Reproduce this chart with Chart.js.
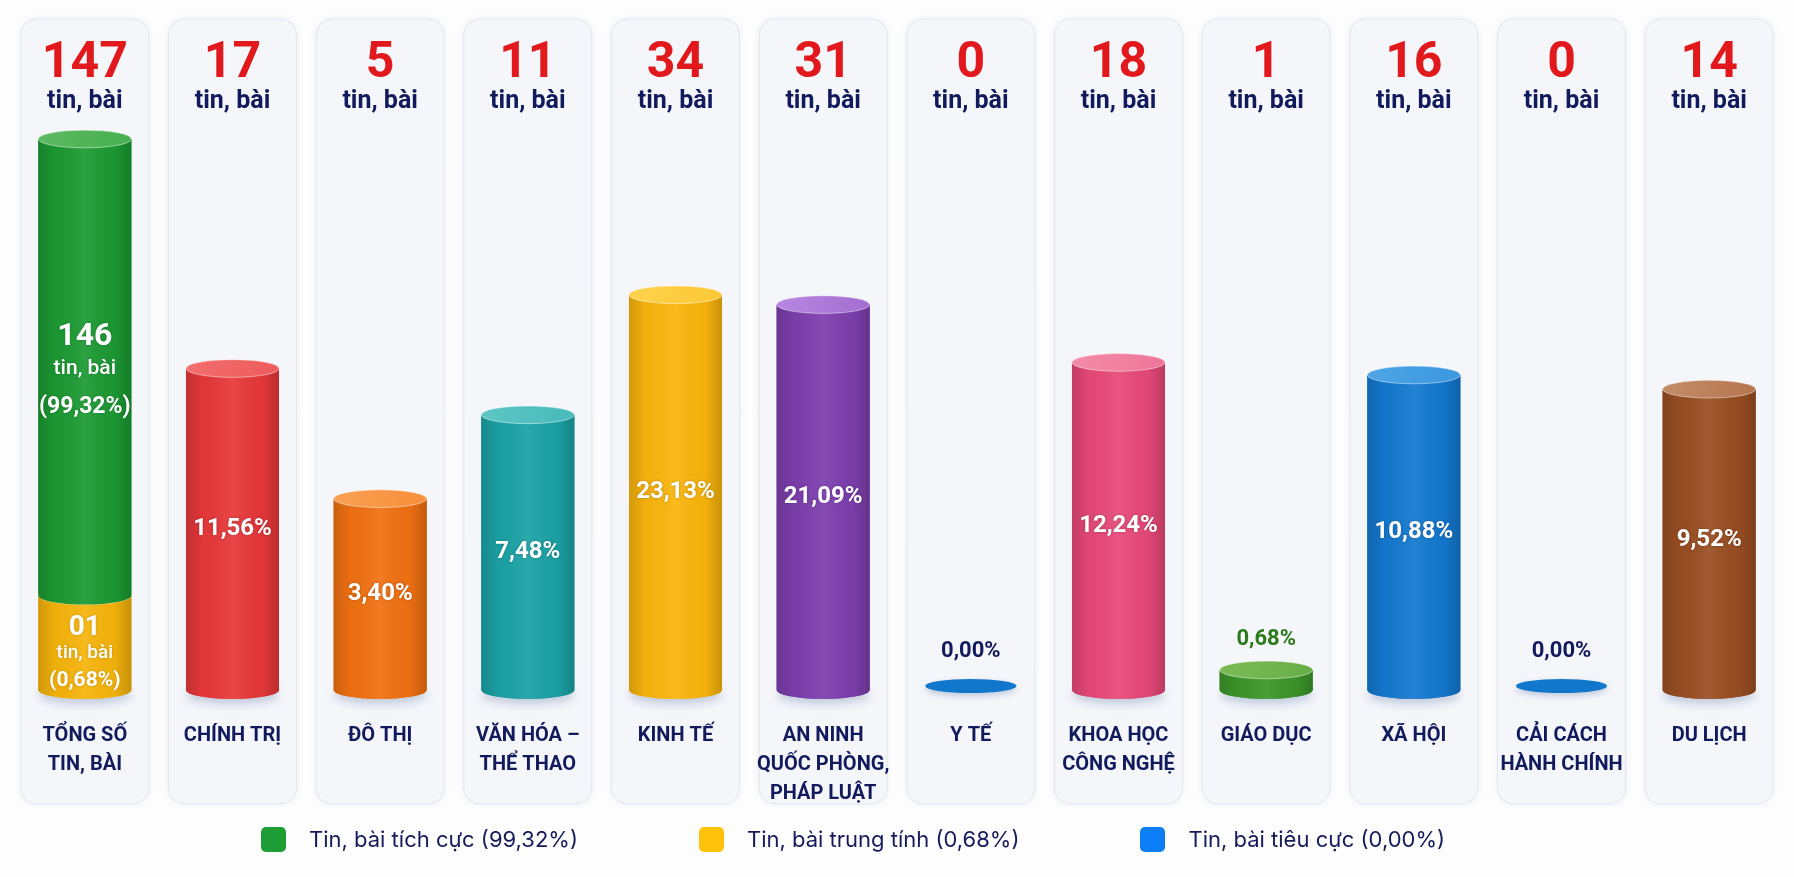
<!DOCTYPE html>
<html lang="vi">
<head>
<meta charset="utf-8">
<title>Tin, bài theo lĩnh vực</title>
<script src="https://cdn.jsdelivr.net/npm/chart.js@4.4.1/dist/chart.umd.min.js"></script>
<style>
  html, body { margin: 0; padding: 0; background: #fdfdfe; }
  .wrap { position: relative; width: 1794px; height: 877px; font-family: Roboto, "Noto Sans", sans-serif; }
  canvas { position: absolute; left: 0; top: 0; }
  #legend { position: absolute; left: 261px; top: 826px; display: flex; gap: 121px; align-items: center; }
  .legend-item { display: flex; align-items: center; gap: 23px; font-family: Inter, Roboto, sans-serif; font-size: 22px; color: #16195a; }
  .legend-box { width: 25px; height: 25px; border-radius: 5px; }
</style>
</head>
<body>
<div class="wrap">
  <canvas id="chart" width="1794" height="877"></canvas>
  <div id="legend"></div>
</div>
<script>
// du lieu
const categories = [
  ["TỔNG SỐ", "TIN, BÀI"], ["CHÍNH TRỊ"], ["ĐÔ THỊ"], ["VĂN HÓA –", "THỂ THAO"],
  ["KINH TẾ"], ["AN NINH", "QUỐC PHÒNG,", "PHÁP LUẬT"], ["Y TẾ"], ["KHOA HỌC", "CÔNG NGHỆ"],
  ["GIÁO DỤC"], ["XÃ HỘI"], ["CẢI CÁCH", "HÀNH CHÍNH"], ["DU LỊCH"]
];
const topicCounts = [null, 17, 5, 11, 34, 31, 0, 18, 1, 16, 0, 14];
const positiveCounts = [146, null, null, null, null, null, null, null, null, null, null, null];
const neutralCounts = [1, null, null, null, null, null, null, null, null, null, null, null];
const negativeCounts = [0, null, null, null, null, null, null, null, null, null, null, null];
const toneLabels = ["Tin, bài tích cực", "Tin, bài trung tính", "Tin, bài tiêu cực"];
const unitLabel = "tin, bài";

const totalCount = positiveCounts[0] + neutralCounts[0] + negativeCounts[0];
const pct = (v) => (v / totalCount * 100).toFixed(2).replace(".", ",") + "%";

const NAVY = "#111a5c";
const RED = "#e2191c";
const FONT = 'Roboto, "Noto Sans", sans-serif';

const topicBody = [null, "#e8383a", "#f27112", "#1ba3a6", "#fbb60c", "#7d3fae", "#1077cc",
  "#e8497a", "#3d962a", "#1479d0", "#1077cc", "#9a4e22"];
const topicCap = [null, "#f26e6e", "#f9a052", "#5ec6c5", "#fdd24c", "#b887e2", "#1077cc",
  "#f38ca8", "#7cbb55", "#4fa6e6", "#1077cc", "#c38c68"];

const pick = (c, i) => (Array.isArray(c) ? c[i] : c);

const ellipsePath = (ctx, x, y, rx, ry) => {
  ctx.beginPath();
  ctx.ellipse(x, y, rx, ry, 0, 0, Math.PI * 2);
};

const drawText = (ctx, text, x, y, size, color, weight = "bold") => {
  ctx.font = `${weight} ${size}px ${FONT}`;
  ctx.fillStyle = color;
  ctx.fillText(text, x, y);
};

// the, hinh tru va nhan
const cylinderPlugin = {
  id: "cylinders",
  beforeDraw(chart) {
    const { ctx, scales: { x } } = chart;
    ctx.save();
    categories.forEach((c, i) => {
      const cx = x.getPixelForValue(i);
      ctx.beginPath();
      ctx.roundRect(cx - 64, 19, 128, 785, 16);
      ctx.shadowColor = "rgba(110,130,170,0.14)";
      ctx.shadowBlur = 6;
      ctx.fillStyle = "#f5f6fa";
      ctx.fill();
      ctx.shadowColor = "transparent";
      ctx.strokeStyle = "#e1e6ef";
      ctx.lineWidth = 1;
      ctx.stroke();
    });
    ctx.restore();
  },
  afterDatasetsDraw(chart) {
    const { ctx, chartArea } = chart;
    const labels = [];
    chart.getSortedVisibleDatasetMetas().forEach((meta) => {
      const ds = chart.data.datasets[meta.index];
      meta.data.forEach((bar, i) => {
        const v = ds.data[i];
        if (v === null || v === undefined) return;
        const { x, y, base, width } = bar.getProps(["x", "y", "base", "width"], true);
        const rx = width / 2;
        const ry = rx * 0.19;
        const body = pick(ds.backgroundColor, i);
        const cap = pick(ds.capColor, i);
        if (v === 0) {
          if (!ds.flatZero) return;
          ctx.save();
          ctx.shadowColor = "rgba(70,100,150,0.3)";
          ctx.shadowBlur = 6;
          ctx.shadowOffsetY = 3;
          ellipsePath(ctx, x, base - 4, rx * 0.98, ry * 0.8);
          ctx.fillStyle = body;
          ctx.fill();
          ctx.restore();
          labels.push({ kind: "above", x, y: base - 4 - ry - 26, text: pct(v), color: NAVY });
          return;
        }
        const onFloor = Math.abs(base - chartArea.bottom) < 1;
        ctx.save();
        if (onFloor) {
          ctx.shadowColor = "rgba(70,100,150,0.3)";
          ctx.shadowBlur = 10;
          ctx.shadowOffsetY = 5;
          ellipsePath(ctx, x, base, rx, ry);
          ctx.fillStyle = body;
          ctx.fill();
          ctx.shadowColor = "transparent";
        }
        // than tru
        ctx.beginPath();
        ctx.moveTo(x - rx, y);
        ctx.lineTo(x - rx, base);
        ctx.ellipse(x, base, rx, ry, 0, Math.PI, 0, true);
        ctx.lineTo(x + rx, y);
        ctx.closePath();
        ctx.fillStyle = body;
        ctx.fill();
        const g = ctx.createLinearGradient(x - rx, 0, x + rx, 0);
        g.addColorStop(0, "rgba(0,0,0,0.16)");
        g.addColorStop(0.18, "rgba(0,0,0,0.03)");
        g.addColorStop(0.5, "rgba(255,255,255,0.07)");
        g.addColorStop(0.82, "rgba(0,0,0,0.03)");
        g.addColorStop(1, "rgba(0,0,0,0.2)");
        ctx.fillStyle = g;
        ctx.fill();
        // nap tren
        ellipsePath(ctx, x, y, rx, ry);
        const cg = ctx.createLinearGradient(x - rx, y - ry, x + rx, y + ry);
        cg.addColorStop(0, cap);
        cg.addColorStop(1, body);
        ctx.fillStyle = cap;
        ctx.fill();
        ctx.globalAlpha = 0.35;
        ctx.fillStyle = cg;
        ctx.fill();
        ctx.globalAlpha = 1;
        ctx.strokeStyle = "rgba(255,255,255,0.45)";
        ctx.lineWidth = 1;
        ctx.stroke();
        ctx.restore();

        if (ds.tone) {
          labels.push({ kind: "tone", x, y, base, v });
        } else if (v <= 1) {
          labels.push({ kind: "above", x, y: y - ry - 22, text: pct(v), color: "#2b7a1c" });
        } else {
          labels.push({ kind: "inside", x, y: (y + base) / 2, text: pct(v) });
        }
      });
    });

    ctx.save();
    ctx.textAlign = "center";
    labels.forEach((l) => {
      if (l.kind === "above") {
        ctx.textBaseline = "middle";
        drawText(ctx, l.text, l.x, l.y, 22, l.color);
      } else if (l.kind === "inside") {
        ctx.textBaseline = "middle";
        ctx.shadowColor = "rgba(0,0,0,0.25)";
        ctx.shadowBlur = 3;
        drawText(ctx, l.text, l.x, l.y, 24, "#ffffff");
        ctx.shadowColor = "transparent";
      } else {
        const mid = (l.y + l.base) / 2;
        const big = l.base - l.y > 150;
        const count = String(l.v).padStart(2, "0");
        ctx.textBaseline = "alphabetic";
        ctx.shadowColor = "rgba(0,0,0,0.2)";
        ctx.shadowBlur = 3;
        if (big) {
          drawText(ctx, count, l.x, mid - 22, 32, "#ffffff");
          drawText(ctx, unitLabel, l.x, mid + 7, 21, "#ffffff", "500");
          drawText(ctx, "(" + pct(l.v) + ")", l.x, mid + 46, 23, "#ffffff");
        } else {
          drawText(ctx, count, l.x, mid - 8, 28, "#ffffff");
          drawText(ctx, unitLabel, l.x, mid + 15, 19, "#ffffff", "500");
          drawText(ctx, "(" + pct(l.v) + ")", l.x, mid + 43, 21, "#ffffff");
        }
        ctx.shadowColor = "transparent";
      }
    });

    // so luong o dau moi cot
    const xs = chart.scales.x;
    ctx.textBaseline = "alphabetic";
    categories.forEach((c, i) => {
      const n = i === 0 ? totalCount : topicCounts[i];
      const cx = xs.getPixelForValue(i);
      drawText(ctx, String(n), cx, 77, 50, RED);
      drawText(ctx, unitLabel, cx, 108, 25, NAVY);
    });
    ctx.restore();
  }
};

const datasets = [
  { label: toneLabels[1], data: neutralCounts, yAxisID: "yTotal", tone: true,
    backgroundColor: "#f7b50b", capColor: "#fbd050", legendColor: "#ffc20a" },
  { label: toneLabels[0], data: positiveCounts, yAxisID: "yTotal", tone: true,
    backgroundColor: "#1c9a33", capColor: "#5dba62", legendColor: "#1f9d35" },
  { label: toneLabels[2], data: negativeCounts, yAxisID: "yTotal", tone: true,
    backgroundColor: "#0b7ef5", capColor: "#4aa2f7", legendColor: "#0b7ef5" },
  { label: "Lĩnh vực", data: topicCounts, yAxisID: "y", flatZero: true,
    backgroundColor: topicBody, capColor: topicCap }
];
datasets.forEach((d) => {
  d.stack = "main";
  d.barPercentage = 0.63;
  d.categoryPercentage = 1;
  d.borderWidth = 0;
});

const chart = new Chart(document.getElementById("chart"), {
  type: "bar",
  data: { labels: categories, datasets },
  options: {
    responsive: false,
    animation: false,
    events: [],
    layout: { padding: { top: 139, left: 11, right: 11, bottom: 46 } },
    plugins: { legend: { display: false }, tooltip: { enabled: false } },
    scales: {
      x: {
        stacked: true,
        grid: { display: false },
        border: { display: false },
        ticks: {
          padding: 23,
          color: NAVY,
          maxRotation: 0,
          autoSkip: false,
          font: { family: FONT, size: 20, weight: "bold", lineHeight: 1.45 }
        }
      },
      y: { type: "logarithmic", display: false, min: 0.828, max: 147 },
      yTotal: { type: "logarithmic", display: false, stacked: true, min: 0.357, max: 147 }
    }
  },
  plugins: [cylinderPlugin]
});

// chu giai
const legendOrder = [1, 0, 2];
const legendEl = document.getElementById("legend");
legendOrder.forEach((di) => {
  const ds = datasets[di];
  const share = ds.data[0];
  legendEl.innerHTML += `
    <div class="legend-item">
      <span class="legend-box" style="background:${ds.legendColor}"></span>
      <span>${ds.label} (${pct(share)})</span>
    </div>`;
});
</script>
</body>
</html>
